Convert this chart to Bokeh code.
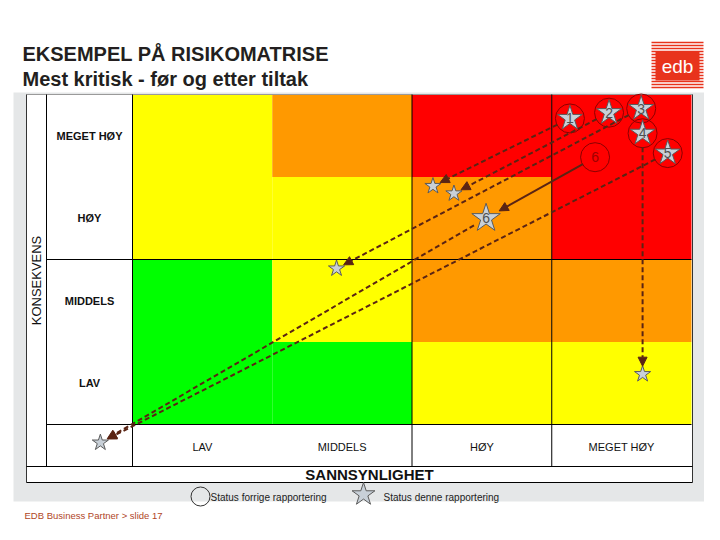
import math
from bokeh.plotting import figure
from bokeh.models import ColumnDataSource, Arrow, NormalHead, Range1d
from bokeh.core.properties import value
from bokeh.embed import file_html
from bokeh.resources import INLINE

# ---------------- data ----------------
title_main = "EKSEMPEL PÅ RISIKOMATRISE"
title_sub = "Mest kritisk - før og etter tiltak"
x_axis_title = "SANNSYNLIGHET"
y_axis_title = "KONSEKVENS"
likelihood_labels = ["LAV", "MIDDELS", "HØY", "MEGET HØY"]
consequence_labels = ["LAV", "MIDDELS", "HØY", "MEGET HØY"]
# rows: consequence LAV..MEGET HØY, columns: likelihood LAV..MEGET HØY
cell_levels = [
    ["green", "green", "yellow", "yellow"],
    ["green", "yellow", "orange", "orange"],
    ["yellow", "yellow", "orange", "red"],
    ["yellow", "orange", "red", "red"],
]
risk_ids = ["1", "2", "3", "4", "5", "6"]
# previous report (circles)
prev_x = [3.13, 3.41, 3.64, 3.65, 3.83, 3.31]
prev_y = [3.71, 3.78, 3.83, 3.53, 3.29, 3.24]
# this report (stars)
curr_x = [3.13, 3.41, 3.64, 3.65, 3.83, 2.53]
curr_y = [3.71, 3.78, 3.83, 3.53, 3.29, 2.50]
# after measures (target stars)
after_x = [2.15, 2.30, 1.46, 3.65, -0.23, -0.23]
after_y = [2.89, 2.80, 1.89, 0.61, -0.22, -0.22]
legend_labels = ["Status forrige rapportering", "Status denne rapportering"]
footer_text = "EDB Business Partner > slide 17"
logo_text = "edb"

# ---------------- styles ----------------
level_colors = {"green": "#00ff00", "yellow": "#ffff00", "orange": "#ff9900", "red": "#ff0000"}
FONT = value("Liberation Sans")
ARROW_C = "#5a2414"
STAR_FILL = "#c8d0d8"
STAR_LINE = "#5a5a5a"

# page-pixel -> data conversion (grid: columns 132..691, rows 424..94)
SX, SY = 139.75, 82.5
def X(px):
    return (px - 132) / SX
def Y(py):
    return (424 - py) / SY

p = figure(width=704, height=524,
           x_range=Range1d(X(0), X(704)), y_range=Range1d(Y(524), Y(0)),
           output_backend="svg", toolbar_location=None,
           x_axis_location=None, y_axis_location=None, min_border=0)
p.grid.visible = False
p.outline_line_color = None
p.background_fill_color = "white"
p.border_fill_color = "white"

# grey panel and white table
p.quad(left=[X(13)], right=[X(706)], top=[Y(92)], bottom=[Y(501)],
       fill_color="#e5e7e8", line_color=None)
p.quad(left=[X(26)], right=[X(692)], top=[Y(94)], bottom=[Y(482)],
       fill_color="white", line_color=None)

# matrix cells
cl, cr, cb, ct, cc = [], [], [], [], []
for r, row in enumerate(cell_levels):
    for c, lev in enumerate(row):
        cl.append(c); cr.append(c + 1); cb.append(r); ct.append(r + 1)
        cc.append(level_colors[lev])
p.quad(left=cl, right=cr, bottom=cb, top=ct, fill_color=cc, line_color=None)

# table lines
n = len(likelihood_labels)
segs = [
    (X(26), Y(94), X(692), Y(94), "#9a9a9a"),
    (X(26), Y(94), X(26), Y(482), "#333333"),
    (X(692), Y(94), X(692), Y(482), "#333333"),
    (X(46), Y(94), X(46), Y(466), "#000000"),
    (0, Y(94), 0, Y(466), "#000000"),
    (2, Y(94), 2, Y(466), "#000000"),
    (3, Y(94), 3, Y(466), "#000000"),
    (X(46), 2, n, 2, "#000000"),
    (X(46), 0, n, 0, "#000000"),
    (X(26), Y(466), X(692), Y(466), "#000000"),
    (X(26), Y(482), X(692), Y(482), "#000000"),
]
p.segment(x0=[s[0] for s in segs], y0=[s[1] for s in segs],
          x1=[s[2] for s in segs], y1=[s[3] for s in segs],
          line_color=[s[4] for s in segs], line_width=1)

# row labels (consequence)
p.text(x=[X(89)] * n, y=[i + 0.5 for i in range(n)], text=consequence_labels,
       text_font=FONT, text_font_size="11px", text_font_style="bold",
       text_align="center", text_baseline="middle", text_color="#111111")
# column labels (likelihood)
p.text(x=[i + 0.5 for i in range(n)], y=[Y(446)] * n, text=likelihood_labels,
       text_font=FONT, text_font_size="11px",
       text_align="center", text_baseline="middle", text_color="#111111")
p.text(x=[X(369)], y=[Y(474)], text=[x_axis_title], text_font=FONT,
       text_font_size="15px", text_font_style="bold",
       text_align="center", text_baseline="middle", text_color="#111111")
p.text(x=[X(36)], y=[Y(280)], text=[y_axis_title], text_font=FONT,
       text_font_size="13px", angle=math.pi / 2,
       text_align="center", text_baseline="middle", text_color="#111111")

# ---------------- arrows ----------------
def shorten(x0, y0, x1, y1, a, b):
    dxp, dyp = (x1 - x0) * SX, (y1 - y0) * SY
    L = math.hypot(dxp, dyp)
    ux, uy = dxp / L, dyp / L
    return (x0 + ux * a / SX, y0 + uy * a / SY, x1 - ux * b / SX, y1 - uy * b / SY)

moved = [i for i in range(len(risk_ids)) if (prev_x[i], prev_y[i]) != (curr_x[i], curr_y[i])]

# solid: previous -> current where moved
sol = [shorten(prev_x[i], prev_y[i], curr_x[i], curr_y[i], 14, 15) for i in moved]
if sol:
    src = ColumnDataSource(dict(xs=[s[0] for s in sol], ys=[s[1] for s in sol],
                                xe=[s[2] for s in sol], ye=[s[3] for s in sol]))
    p.add_layout(Arrow(end=NormalHead(size=9, fill_color=ARROW_C, line_color=ARROW_C),
                       x_start="xs", y_start="ys", x_end="xe", y_end="ye", source=src,
                       line_color=ARROW_C, line_width=2))
# dashed: current -> after measures
das = [shorten(curr_x[i], curr_y[i], after_x[i], after_y[i], 14, 8)
       for i in range(len(risk_ids))]
src2 = ColumnDataSource(dict(xs=[s[0] for s in das], ys=[s[1] for s in das],
                             xe=[s[2] for s in das], ye=[s[3] for s in das]))
p.add_layout(Arrow(end=NormalHead(size=9, fill_color=ARROW_C, line_color=ARROW_C),
                   x_start="xs", y_start="ys", x_end="xe", y_end="ye", source=src2,
                   line_color=ARROW_C, line_width=2, line_dash="5 3"))

# ---------------- markers ----------------
# previous status circles
p.scatter(x=prev_x, y=prev_y, marker="circle", size=29, fill_alpha=0,
          line_color="#8a0000", line_width=1)
# current status stars
curr_sizes = [30 if i in moved else 26 for i in range(len(risk_ids))]
p.scatter(x=curr_x, y=curr_y, marker="star", size=curr_sizes, fill_color=STAR_FILL,
          line_color=STAR_LINE, line_width=1)
# after-measure stars (unique positions)
uniq = sorted(set(zip(after_x, after_y)))
p.scatter(x=[u[0] for u in uniq], y=[u[1] for u in uniq], marker="star", size=17,
          fill_color=STAR_FILL, line_color=STAR_LINE, line_width=1)
# numbers
p.text(x=curr_x, y=curr_y, text=risk_ids, text_font=FONT, text_font_size="14px",
       text_align="center", text_baseline="middle", text_color="#505050")
p.text(x=[prev_x[i] for i in moved], y=[prev_y[i] for i in moved],
       text=[risk_ids[i] for i in moved], text_font=FONT, text_font_size="14px",
       text_align="center", text_baseline="middle", text_color="#a00000")

# ---------------- legend ----------------
p.scatter(x=[X(200)], y=[Y(496)], marker="circle", size=19, fill_alpha=0,
          line_color="#333333", line_width=1)
p.scatter(x=[X(363)], y=[Y(494)], marker="star", size=24, fill_color=STAR_FILL,
          line_color=STAR_LINE, line_width=1)
p.text(x=[X(210), X(383)], y=[Y(497), Y(497)], text=legend_labels, text_font=FONT,
       text_font_size="10px", text_align="left", text_baseline="middle",
       text_color="#222222")

# ---------------- titles, footer ----------------
p.text(x=[X(22), X(22)], y=[Y(53), Y(78)], text=[title_main, title_sub],
       text_font=FONT, text_font_size="20px", text_font_style="bold",
       text_align="left", text_baseline="middle", text_color="#231f20")
p.text(x=[X(24)], y=[Y(515)], text=[footer_text], text_font=FONT,
       text_font_size="9.5px", text_align="left", text_baseline="middle",
       text_color="#b0461f")

# ---------------- logo ----------------
stripe_y = [Y(42 + 3 * k) for k in range(16)]
p.segment(x0=[X(651)] * len(stripe_y), y0=stripe_y, x1=[X(703)] * len(stripe_y),
          y1=stripe_y, line_color="#e8331c", line_width=1.6)
p.quad(left=[X(655)], right=[X(699)], top=[Y(51)], bottom=[Y(80)],
       fill_color="#e8331c", line_color=None)
p.text(x=[X(677)], y=[Y(66)], text=[logo_text], text_font=FONT,
       text_font_size="19px", text_align="center", text_baseline="middle",
       text_color="white")

open("out.html", "w").write(file_html(p, INLINE))
